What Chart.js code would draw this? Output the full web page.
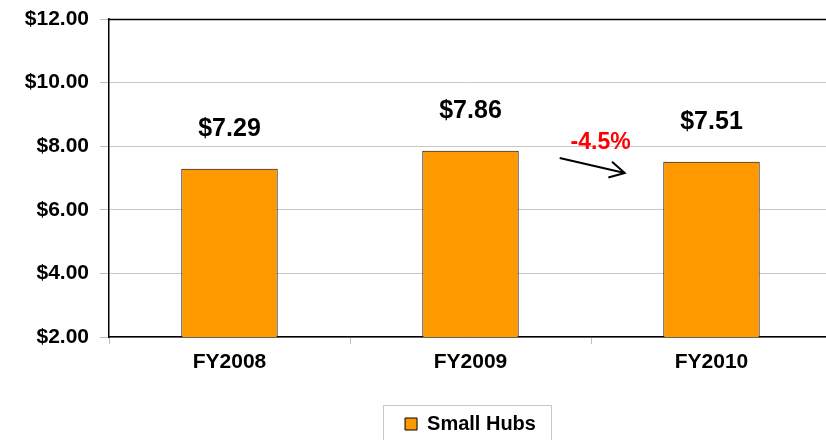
<!DOCTYPE html>
<html>
<head>
<meta charset="utf-8">
<script src="https://cdn.jsdelivr.net/npm/chart.js@4"></script>
<style>
  html, body { margin: 0; padding: 0; background: #fff; overflow: hidden; }
  canvas { display: block; }
</style>
</head>
<body>
<canvas id="hubChart" width="840" height="440"></canvas>
<script>
const years = ["FY2008", "FY2009", "FY2010"];
const smallHubs = [7.29, 7.86, 7.51];
const yTicks = [2, 4, 6, 8, 10, 12];
const changeLabel = "-4.5%";
// annotation anchors as [category index, value]
const changeTextAt = [1.54, 8.1];
const changeArrow = [[1.37, 7.63], [1.64, 7.16]];

const FONT = "'Liberation Sans', Arial, sans-serif";
const money = (v) => "$" + v.toFixed(2);

const extras = {
  id: "extras",
  afterDatasetsDraw(chart) {
    const ctx = chart.ctx;
    const x = chart.scales.x;
    const y = chart.scales.y;
    const meta = chart.getDatasetMeta(0);

    ctx.save();
    // value labels above bars
    ctx.fillStyle = "#000";
    ctx.font = "bold 25px " + FONT;
    ctx.textAlign = "center";
    ctx.textBaseline = "middle";
    meta.data.forEach((bar, i) => {
      ctx.fillText(money(smallHubs[i]), bar.x, bar.y - 40);
    });

    // change annotation
    ctx.fillStyle = "#ff0000";
    ctx.font = "bold 23px " + FONT;
    ctx.fillText(changeLabel, x.getPixelForValue(changeTextAt[0]), y.getPixelForValue(changeTextAt[1]));

    const x1 = x.getPixelForValue(changeArrow[0][0]);
    const y1 = y.getPixelForValue(changeArrow[0][1]);
    const x2 = x.getPixelForValue(changeArrow[1][0]);
    const y2 = y.getPixelForValue(changeArrow[1][1]);
    const ang = Math.atan2(y2 - y1, x2 - x1);
    ctx.strokeStyle = "#000";
    ctx.lineWidth = 2;
    ctx.beginPath();
    ctx.moveTo(x1, y1);
    ctx.lineTo(x2, y2);
    ctx.moveTo(x2 - 17 * Math.cos(ang - 0.5), y2 - 17 * Math.sin(ang - 0.5));
    ctx.lineTo(x2, y2);
    ctx.lineTo(x2 - 17 * Math.cos(ang + 0.5), y2 - 17 * Math.sin(ang + 0.5));
    ctx.stroke();

    // frame line at the top of the plot
    ctx.strokeStyle = "#000";
    ctx.lineWidth = 1.5;
    ctx.beginPath();
    ctx.moveTo(chart.chartArea.left, chart.chartArea.top + 0.5);
    ctx.lineTo(chart.chartArea.right, chart.chartArea.top + 0.5);
    ctx.stroke();
    ctx.restore();
  },
  afterDraw(chart) {
    // box around the legend
    const hb = chart.legend.legendHitBoxes[0];
    if (!hb) return;
    const ctx = chart.ctx;
    ctx.save();
    ctx.strokeStyle = "#c8c8c8";
    ctx.lineWidth = 1;
    ctx.strokeRect(Math.round(hb.left - 22) + 0.5, Math.round(hb.top - 9) + 0.5,
      Math.round(hb.width + 37), 60);
    ctx.restore();
  }
};

new Chart(document.getElementById("hubChart"), {
  type: "bar",
  data: {
    labels: years,
    datasets: [{
      label: "Small Hubs",
      data: smallHubs,
      backgroundColor: "#ff9900",
      borderColor: "#000",
      borderWidth: 1,
      borderSkipped: false,
      barPercentage: 0.4,
      categoryPercentage: 1.0
    }]
  },
  options: {
    responsive: false,
    animation: false,
    layout: { padding: { top: 19, right: 8, left: 0, bottom: -4 } },
    scales: {
      x: {
        offset: true,
        grid: {
          offset: true,
          drawOnChartArea: false,
          drawTicks: true,
          tickLength: 7,
          tickColor: "#c0c0c0"
        },
        border: { color: "#000", width: 1.5 },
        ticks: {
          color: "#000",
          padding: 6,
          font: { family: FONT, size: 21, weight: "bold" }
        },
        afterFit(scale) { scale.height = 71; }
      },
      y: {
        min: 2,
        max: 12,
        afterBuildTicks(scale) { scale.ticks = yTicks.map((v) => ({ value: v })); },
        grid: {
          color: (c) => (c.tick && c.tick.value === 12 ? "rgba(0,0,0,0)" : "#c8c8c8"),
          tickColor: "#c0c0c0",
          tickLength: 9
        },
        border: { color: "#000", width: 1.5 },
        ticks: {
          color: "#000",
          padding: 11,
          font: { family: FONT, size: 21, weight: "bold" },
          callback: (v) => money(v)
        },
        afterFit(scale) {
          scale.width = 109;
          scale.paddingTop = 0;
          scale.paddingBottom = 0;
        }
      }
    },
    plugins: {
      legend: {
        position: "bottom",
        fullSize: false,
        labels: {
          color: "#000",
          boxWidth: 12,
          boxHeight: 12,
          padding: 6,
          font: { family: FONT, size: 20, weight: "bold" },
          generateLabels: (chart) => [{
            text: chart.data.datasets[0].label,
            fillStyle: "#ff9900",
            strokeStyle: "#000",
            lineWidth: 1,
            datasetIndex: 0
          }]
        }
      },
      tooltip: { enabled: false }
    }
  },
  plugins: [extras]
});
</script>
</body>
</html>
